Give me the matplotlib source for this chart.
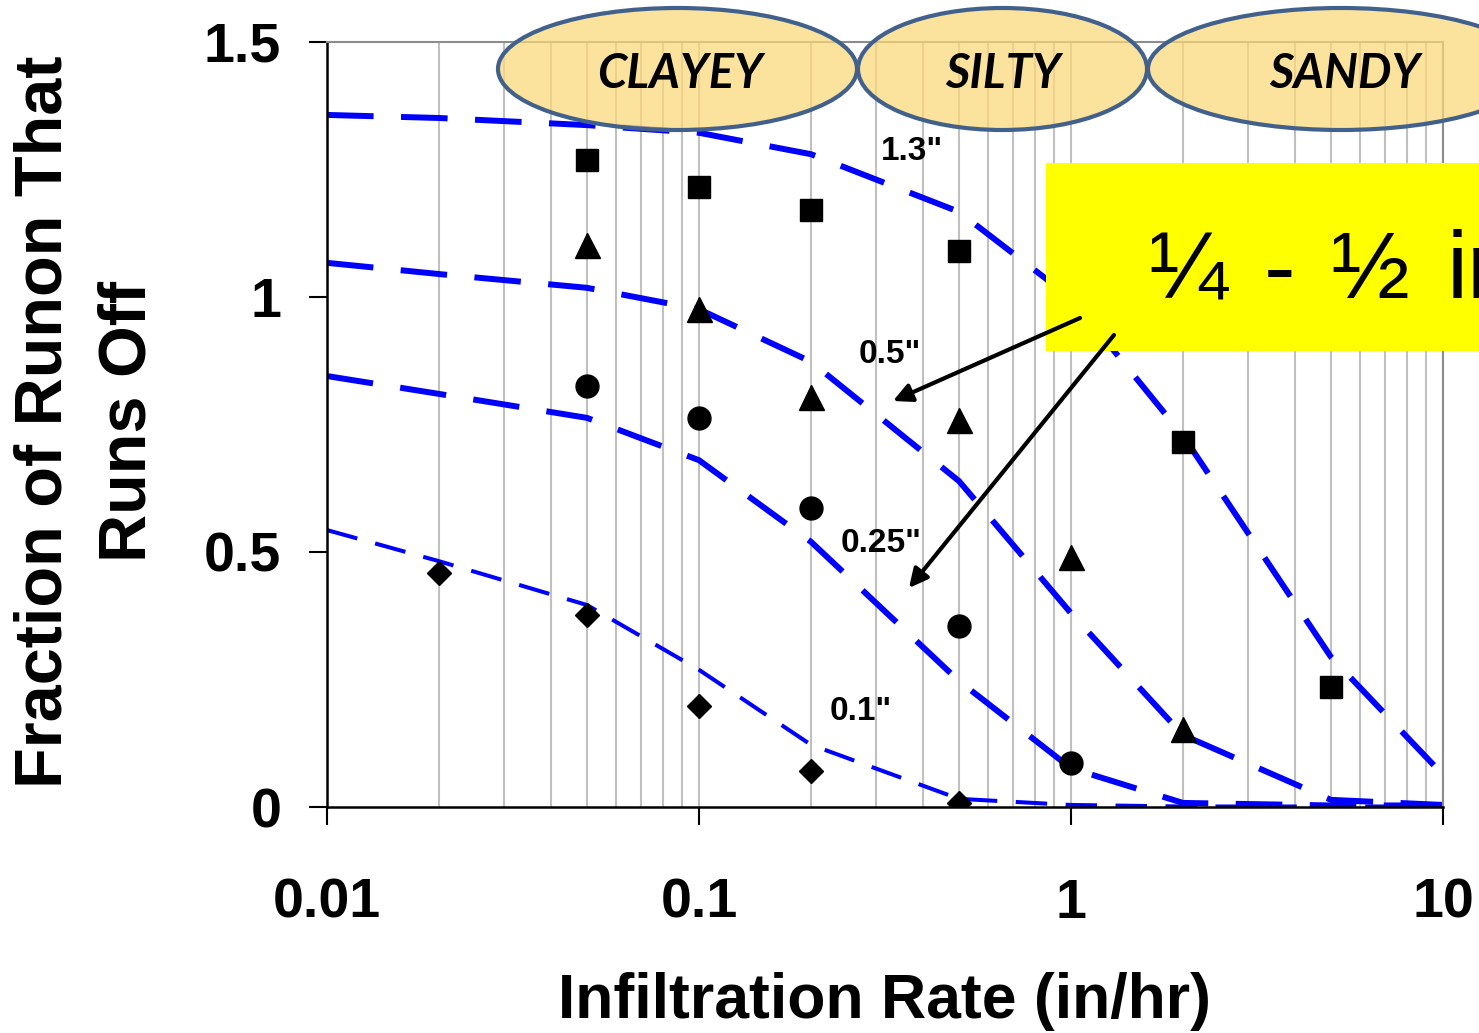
import matplotlib
matplotlib.use("Agg")
import matplotlib.pyplot as plt
from matplotlib.patches import Ellipse, Rectangle, FancyArrowPatch
from matplotlib.ticker import LogLocator, NullFormatter, FixedLocator

plt.rcParams['font.family'] = ['Liberation Sans', 'DejaVu Sans']

# ---------------- data ----------------
infil = [0.01, 0.02, 0.05, 0.1, 0.2, 0.5, 1, 2, 5, 10]
curve_13 = [1.357, 1.351, 1.337, 1.322, 1.280, 1.167, 0.998, 0.728, 0.294, 0.063]
curve_05 = [1.067, 1.045, 1.018, 0.976, 0.873, 0.639, 0.380, 0.141, 0.014, 0.004]
curve_025 = [0.845, 0.810, 0.763, 0.680, 0.520, 0.247, 0.076, 0.008, 0.003, 0.003]
curve_01 = [0.543, 0.482, 0.396, 0.269, 0.122, 0.016, 0.004, 0.001, 0.001, 0.001]

sq_x = [0.05, 0.1, 0.2, 0.5, 2, 5]
sq_y = [1.269, 1.216, 1.171, 1.090, 0.716, 0.235]
tri_x = [0.05, 0.1, 0.2, 0.5, 1, 2]
tri_y = [1.102, 0.976, 0.804, 0.759, 0.490, 0.153]
cir_x = [0.05, 0.1, 0.2, 0.5, 1]
cir_y = [0.825, 0.763, 0.586, 0.355, 0.086]
dia_x = [0.02, 0.05, 0.1, 0.2, 0.5]
dia_y = [0.459, 0.376, 0.198, 0.071, 0.008]

curve_labels = ['1.3"', '0.5"', '0.25"', '0.1"']
soil_labels = ['CLAYEY', 'SILTY', 'SANDY']
box_parts = ['\u00bc', '-', '\u00bd', 'in']
x_ticks = [0.01, 0.1, 1, 10]
x_ticklabels = ['0.01', '0.1', '1', '10']
y_ticks = [0, 0.5, 1, 1.5]
y_ticklabels = ['0', '0.5', '1', '1.5']

W, H = 1479, 1033
fig = plt.figure(figsize=(W / 100, H / 100), dpi=100)


def fx(px):
    return px / W


def fy(py):
    return 1 - py / H


ax = fig.add_axes([fx(327), fy(807), fx(1443) - fx(327), fy(42) - fy(807)])
ax.set_xscale('log')
ax.set_xlim(0.01, 10)
ax.set_ylim(0, 1.5)

# grid
ax.xaxis.set_major_locator(FixedLocator(x_ticks))
ax.xaxis.set_minor_locator(LogLocator(base=10, subs=[2, 3, 4, 5, 6, 7, 8, 9]))
ax.xaxis.set_minor_formatter(NullFormatter())
ax.grid(True, which='both', axis='x', color='#c0c0c0', lw=1.5, zorder=0)
ax.set_axisbelow(True)

# lines
blue = '#0000ff'
thick = 4.3
thin = 2.9
for yv, lw in [(curve_13, thick), (curve_05, thick), (curve_025, thick), (curve_01, thin)]:
    ln, = ax.plot(infil, yv, color=blue, lw=lw, zorder=2)
    ln.set_dashes((7.8, 4.6))
    ln.set_dash_capstyle('butt')

# markers
ax.plot(sq_x, sq_y, ls='none', marker='s', ms=16, color='k', zorder=3)
ax.plot(tri_x, tri_y, ls='none', marker='^', ms=18, color='k', zorder=3)
ax.plot(cir_x, cir_y, ls='none', marker='o', ms=16.5, color='k', zorder=3)
ax.plot(dia_x, dia_y, ls='none', marker='D', ms=12.7, color='k', zorder=3)

# ticks
ax.set_xticks(x_ticks)
ax.set_xticklabels(x_ticklabels)
ax.set_yticks(y_ticks)
ax.set_yticklabels(y_ticklabels)
ax.tick_params(axis='both', which='major', direction='out', length=13, width=1.5,
               labelsize=40, colors='k')
ax.tick_params(axis='y', pad=20)
ax.tick_params(axis='x', pad=38)
ax.tick_params(axis='x', which='minor', length=0)
for lab in ax.get_xticklabels() + ax.get_yticklabels():
    lab.set_fontweight('bold')

for s in ['left', 'bottom']:
    ax.spines[s].set_color('k')
    ax.spines[s].set_linewidth(1.8)
for s in ['top', 'right']:
    ax.spines[s].set_color('#8c8c8c')
    ax.spines[s].set_linewidth(1.5)

# curve labels (pixel positions)
label_pos = [(912, 152), (890, 354), (881, 544), (861, 712)]
for txt, (px, py) in zip(curve_labels, label_pos):
    fig.text(fx(px), fy(py), txt, ha='center', va='center', fontsize=24,
             fontweight='bold', zorder=5)

# axis titles
fig.text(fx(45), fy(422), 'Fraction of Runon That', rotation=90, ha='center',
         va='center', fontsize=48, fontweight='bold')
fig.text(fx(128), fy(422), 'Runs Off', rotation=90, ha='center', va='center',
         fontsize=48, fontweight='bold')
fig.text(fx(884), fy(1018), 'Infiltration Rate (in/hr)', ha='center',
         va='baseline', fontsize=45, fontweight='bold')

# soil ellipses
ell_specs = [(677.5, 69, 359, 122), (1002.5, 69, 289, 122), (1341, 69, 386, 122)]
text_x = [680, 1003, 1345]
for (cx, cy, w, h), lab, tx in zip(ell_specs, soil_labels, text_x):
    e = Ellipse((fx(cx), fy(cy)), fx(w), h / H, transform=fig.transFigure,
                facecolor=(0.99, 0.85, 0.47, 0.72), edgecolor='#41618c', lw=3,
                zorder=4)
    fig.add_artist(e)
    fig.text(fx(tx), fy(88), lab, ha='center', va='baseline', fontsize=34,
             fontweight='bold', style='italic',
             family=['Lato', 'Liberation Sans', 'DejaVu Sans'],
             zorder=6)

# yellow box
box = Rectangle((fx(1046), fy(351)), fx(1479 - 1046) + 0.01, (351 - 163) / H,
                transform=fig.transFigure, facecolor='#ffff00', edgecolor='none',
                zorder=7)
fig.add_artist(box)
part_x = [1148, 1264, 1330, 1447]
for txt, px in zip(box_parts, part_x):
    fig.text(fx(px), fy(298), txt, ha='left', va='baseline', fontsize=68,
             zorder=8)

# arrows
for (x0, y0), (x1, y1) in [((1080, 318), (893, 401)), ((1114, 335), (909, 588))]:
    fig.add_artist(FancyArrowPatch(
        (fx(x0), fy(y0)), (fx(x1), fy(y1)), transform=fig.transFigure,
        arrowstyle='-|>', mutation_scale=28, lw=3, color='k', shrinkA=0,
        shrinkB=0, zorder=9))

fig.savefig('out.png', dpi=100)
